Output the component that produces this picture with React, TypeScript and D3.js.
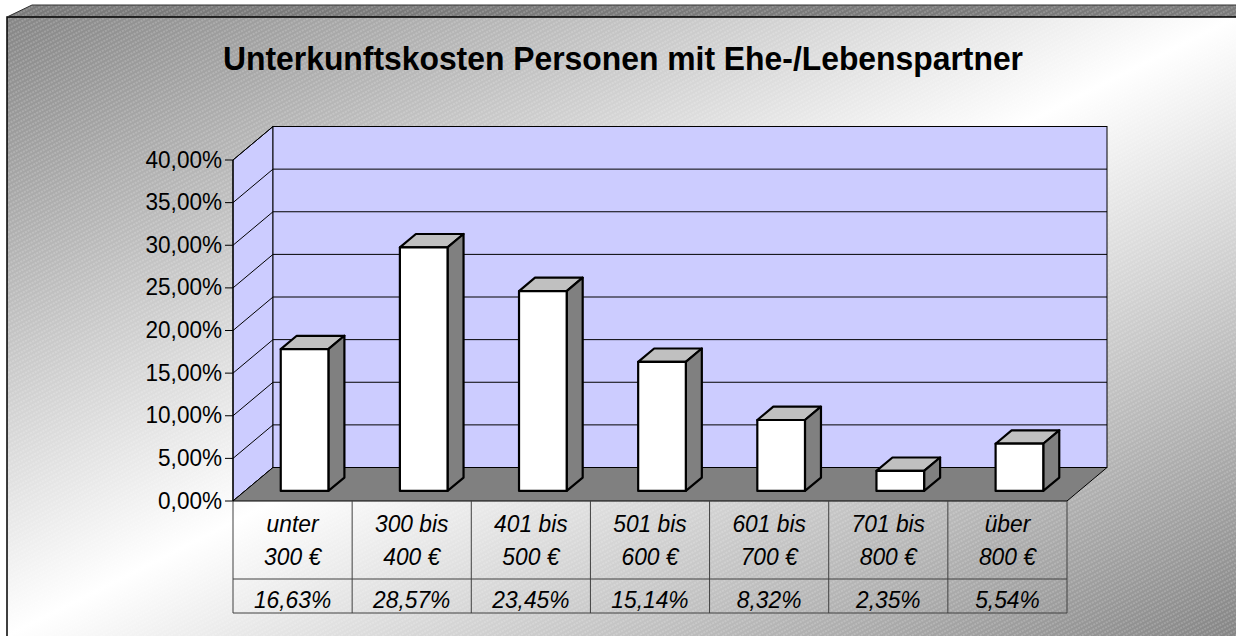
import React from "react";
import * as d3 from "d3";

const categories = ["unter 300 €", "300 bis 400 €", "401 bis 500 €", "501 bis 600 €", "601 bis 700 €", "701 bis 800 €", "über 800 €"];
const labelLines = [["unter", "300 €"], ["300 bis", "400 €"], ["401 bis", "500 €"], ["501 bis", "600 €"], ["601 bis", "700 €"], ["701 bis", "800 €"], ["über", "800 €"]];
const values = [0.1663, 0.2857, 0.2345, 0.1514, 0.0832, 0.0235, 0.0554];
const yTicks = [0, 0.05, 0.1, 0.15, 0.2, 0.25, 0.3, 0.35, 0.4];
const title = "Unterkunftskosten Personen mit Ehe-/Lebenspartner";

const W = 1236, H = 636;
const FONT = "'Liberation Sans', Arial, sans-serif";

const de = d3.formatLocale({ decimal: ",", thousands: ".", grouping: [3], currency: ["", " €"] });
const pct = de.format(".2%");

export default function App() {
  const x0 = 233, x1 = 1067;
  const yBase = 501, yTop = 160;
  const DX = 40, DY = -33.5;
  const x = d3.scaleBand<string>().domain(categories).range([x0, x1]).paddingInner(0).paddingOuter(0);
  const y = d3.scaleLinear().domain([0, 0.4]).range([yBase, yTop]);
  const bw = x.bandwidth();
  const d0 = 0.3, d1 = 0.7;
  const barW = bw * 0.4;
  const tableMid = 579, tableBot = 613;
  const tickSx = 0.96, tabSx = 0.95;

  const pt = (px: number, py: number) => `${px},${py}`;

  return (
    <svg width={W} height={H} style={{ position: "absolute", left: 0, top: 0, display: "block" }} fontFamily={FONT}>
      <defs>
        <linearGradient id="bg" x1="0" y1="0" x2="1" y2="1">
          <stop offset="0" stopColor="#858585" />
          <stop offset="0.5" stopColor="#ffffff" />
          <stop offset="1" stopColor="#858585" />
        </linearGradient>
        <pattern id="hatch" width="6" height="4" patternUnits="userSpaceOnUse" patternTransform="rotate(-28)">
          <line x1="0" y1="1" x2="6" y2="1" stroke="#ffffff" strokeOpacity="0.35" strokeWidth="1" strokeDasharray="2 1" />
        </pattern>
      </defs>
      <rect x={0} y={0} width={W} height={H} fill="#ffffff" />
      {/* outer panel */}
      <polygon points={`${pt(7, 17)} ${pt(32, 5)} ${pt(W, 5)} ${pt(W, 17)}`} fill="#7a7a7a" />
      <polygon points={`${pt(7, 17)} ${pt(32, 5)} ${pt(W, 5)} ${pt(W, 17)}`} fill="url(#hatch)" />
      <rect x={7} y={17} width={W - 7} height={H - 17} fill="url(#bg)" />
      <rect x={7} y={17} width={W - 7} height={H - 17} fill="url(#hatch)" />
      <polyline points={`${pt(7, H)} ${pt(7, 17)} ${pt(W, 17)}`} fill="none" stroke="#000" strokeWidth={1.5} />
      <polyline points={`${pt(7, 17)} ${pt(32, 5)} ${pt(W, 5)}`} fill="none" stroke="#333" strokeWidth={1} />

      {/* title */}
      <text x={623} y={70} textAnchor="middle" fontSize={32.5} fontWeight="bold" textLength={800} lengthAdjust="spacingAndGlyphs" fill="#000">{title}</text>

      {/* side wall */}
      <polygon points={`${pt(x0, y(0.4))} ${pt(x0 + DX, y(0.4) + DY)} ${pt(x0 + DX, yBase + DY)} ${pt(x0, yBase)}`} fill="#ccccff" stroke="#000" strokeWidth={1} />
      {/* back wall */}
      <rect x={x0 + DX} y={y(0.4) + DY} width={x1 - x0} height={yBase - y(0.4)} fill="#ccccff" stroke="#000" strokeWidth={1} />
      {yTicks.map((t) => (
        <g key={t}>
          <line x1={x0} y1={y(t)} x2={x0 + DX} y2={y(t) + DY} stroke="#000" strokeWidth={1} />
          <line x1={x0 + DX} y1={y(t) + DY} x2={x1 + DX} y2={y(t) + DY} stroke="#000" strokeWidth={1} />
        </g>
      ))}
      {/* floor */}
      <polygon points={`${pt(x0, yBase)} ${pt(x0 + DX, yBase + DY)} ${pt(x1 + DX, yBase + DY)} ${pt(x1, yBase)}`} fill="#808080" stroke="#000" strokeWidth={1} />

      {/* y axis */}
      <line x1={x0} y1={y(0.4)} x2={x0} y2={yBase} stroke="#000" strokeWidth={1.2} />
      {yTicks.map((t) => (
        <g key={"t" + t}>
          <line x1={x0 - 8} y1={y(t)} x2={x0} y2={y(t)} stroke="#000" strokeWidth={1} />
          <g transform={`translate(${x0 - 11},${y(t) + 7.5}) scale(${tickSx},1)`}>
            <text x={0} y={0} textAnchor="end" fontSize={23.5} fill="#000">{pct(t)}</text>
          </g>
        </g>
      ))}

      {/* bars */}
      {categories.map((c, i) => {
        const v = values[i];
        const fx = (x(c) as number) + d0 * DX + (bw - barW) / 2;
        const fyb = yBase + d0 * DY;
        const fyt = fyb - (yBase - y(v));
        const ddx = (d1 - d0) * DX, ddy = (d1 - d0) * DY;
        return (
          <g key={c} stroke="#000" strokeWidth={2.2} strokeLinejoin="round">
            <polygon points={`${pt(fx, fyt)} ${pt(fx + barW, fyt)} ${pt(fx + barW + ddx, fyt + ddy)} ${pt(fx + ddx, fyt + ddy)}`} fill="#c0c0c0" />
            <polygon points={`${pt(fx + barW, fyt)} ${pt(fx + barW + ddx, fyt + ddy)} ${pt(fx + barW + ddx, fyb + ddy)} ${pt(fx + barW, fyb)}`} fill="#808080" />
            <rect x={fx} y={fyt} width={barW} height={fyb - fyt} fill="#ffffff" />
          </g>
        );
      })}

      {/* data table */}
      <g stroke="#404040" strokeWidth={1}>
        <line x1={x0} y1={tableMid} x2={x1} y2={tableMid} />
        <line x1={x0} y1={tableBot} x2={x1} y2={tableBot} />
        {categories.map((c) => (
          <line key={"v" + c} x1={x(c) as number} y1={yBase} x2={x(c) as number} y2={tableBot} />
        ))}
        <line x1={x1} y1={yBase} x2={x1} y2={tableBot} />
      </g>
      {categories.map((c, i) => {
        const cx = (x(c) as number) + bw / 2;
        return (
          <g key={"l" + c} fontStyle="italic" fontSize={24} fill="#000">
            <g transform={`translate(${cx},532) scale(${tabSx},1)`}>
              <text textAnchor="middle">{labelLines[i][0]}</text>
            </g>
            <g transform={`translate(${cx},565) scale(${tabSx},1)`}>
              <text textAnchor="middle">{labelLines[i][1]}</text>
            </g>
            <g transform={`translate(${cx},608) scale(${tabSx},1)`}>
              <text textAnchor="middle">{pct(values[i])}</text>
            </g>
          </g>
        );
      })}
    </svg>
  );
}
